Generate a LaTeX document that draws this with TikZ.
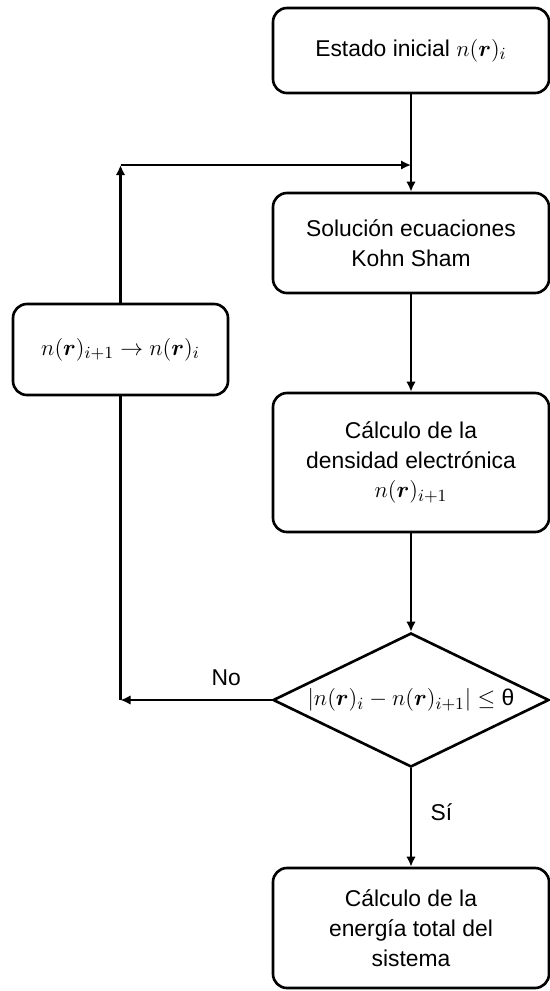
\documentclass[tikz,border=0pt]{standalone}
\usepackage{amsmath,amssymb}
\usepackage{graphicx}
\usepackage[no-math]{fontspec}
\setmainfont{Liberation Sans}
\usetikzlibrary{arrows.meta, positioning, shapes.geometric}

% math set a bit larger, as in the drawing
\newcommand{\mth}[1]{\scalebox{1.08}{$#1$}}

\begin{document}
\begin{tikzpicture}[>={Latex[length=2mm, width=1.9mm]}, line width=1.5pt,
  txt/.style={font=\fontsize{13}{17}\selectfont},
  box/.style={draw, txt, rounded corners=0.28cm, align=center, minimum width=5.52cm},
  decision/.style={draw, txt, diamond, aspect=2.06, inner sep=0pt,
                   minimum width=5.52cm, minimum height=2.68cm}]
\useasboundingbox (0,0) rectangle (11,-19.82);

% Main column of steps
\node[box, minimum height=1.7cm] (init) at (8.22,-1.01) {Estado inicial \mth{n(\boldsymbol{r})_i}};
\node[box, minimum height=2.0cm] (kssol) at (8.22,-4.86) {Solución ecuaciones\\Kohn Sham};
\node[box, minimum height=2.78cm] (dens) at (8.22,-9.25)
      {Cálculo de la\\densidad electrónica\\\mth{n(\boldsymbol{r})_{i+1}}};
\node[decision] (conv) at (8.22,-14.0)
      {\mth{|n(\boldsymbol{r})_i - n(\boldsymbol{r})_{i+1}| \leq} θ};
\node[box, minimum height=2.4cm] (energy) at (8.22,-18.56)
      {Cálculo de la\\energía total del\\sistema};

% Update box on the left
\node[box, minimum width=4.3cm, minimum height=1.82cm] (update) at (2.41,-6.99)
      {\mth{n(\boldsymbol{r})_{i+1} \rightarrow n(\boldsymbol{r})_i}};

% Join point of the loop
\coordinate (loopjoin) at (8.22,-3.3);

% Forward flow
\draw[->] (init) -- (kssol);
\draw[->] (kssol) -- (dens);
\draw[->] (dens) -- (conv);
\draw[->] (conv) -- (energy) node[txt, pos=0.45, right=2.5mm] {Sí};

% Feedback loop
\draw[->] (conv.west) -- (update.south |- conv.west) node[txt, pos=0.3, above=1.5mm] {No};
\draw (update.south) -- (update.south |- conv.west);
\draw[->] (update.north) -- (update.north |- loopjoin);
\draw[->] (update.north |- loopjoin) -- (loopjoin);
\end{tikzpicture}
\end{document}
